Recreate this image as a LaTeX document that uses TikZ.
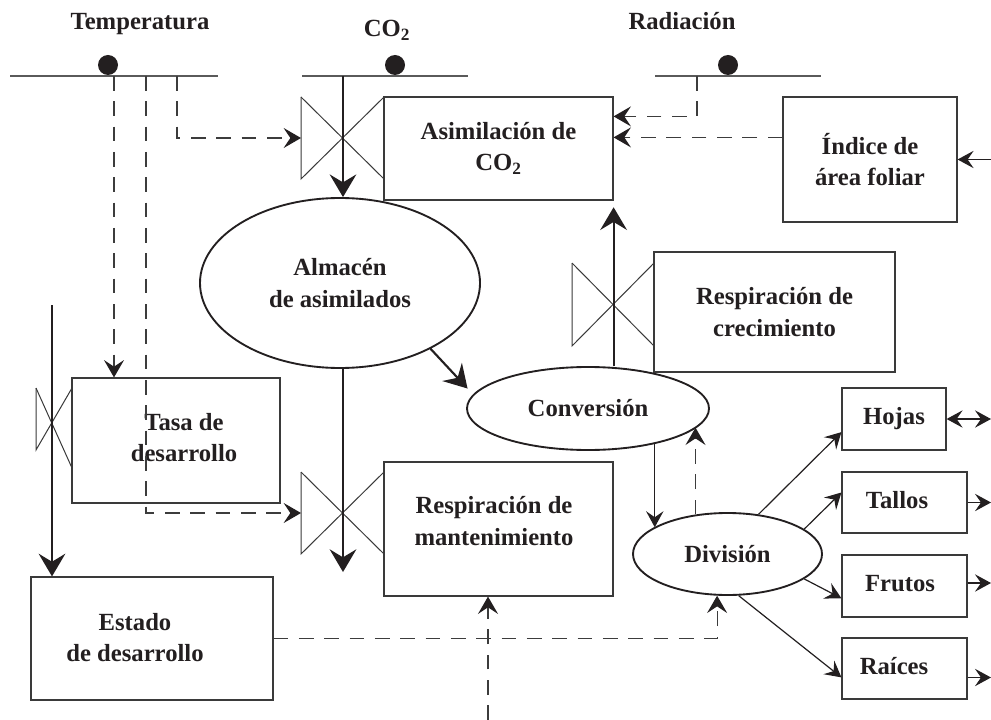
\documentclass[tikz,border=0pt]{standalone}
\usepackage{fontspec}
\setmainfont{Liberation Serif}
\usetikzlibrary{shapes.geometric,arrows.meta,calc}
\definecolor{ink}{HTML}{231F20}
\definecolor{boxc}{HTML}{3A3A3A}
\definecolor{dashc}{HTML}{3C3C3C}
\definecolor{linec}{HTML}{5A5A5A}
\newcommand{\lbl}{\fontsize{18.5}{23.5}\selectfont\bfseries}
\tikzset{
  box/.style={draw=boxc, line width=0.9pt, inner sep=0pt, align=center, font=\lbl, text=ink},
  ell/.style={ellipse, draw=ink, line width=1.4pt, inner sep=0pt, align=center, font=\lbl, text=ink},
  ttl/.style={font=\lbl, text=ink, anchor=base, inner sep=0pt},
  txt/.style={font=\lbl, text=ink, align=center, inner sep=0pt},
  valve/.style={draw=boxc, line width=0.75pt},
  srcline/.style={draw=linec, line width=1.1pt},
  thickarr/.style={draw=ink, line width=1.6pt, -{Stealth[length=17pt,width=20pt,inset=6pt]}},
  thinarr/.style={draw=ink, line width=0.9pt, -{Stealth[length=12pt,width=13pt,inset=4.5pt]}},
  dblarr/.style={draw=ink, line width=0.9pt, {Stealth[length=12pt,width=13pt,inset=4.5pt]}-{Stealth[length=12pt,width=13pt,inset=4.5pt]}},
  dasharr/.style={draw=dashc, line width=0.9pt, dash pattern=on 11pt off 8pt, -{Stealth[length=13pt,width=15pt,inset=5pt,color=ink]}}
}
\begin{document}
\begin{tikzpicture}[x=0.75pt,y=-0.75pt]
\fill[white] (0,0) rectangle (991,720);
\useasboundingbox (0,0) rectangle (991,720);

% titles
\node[ttl] (tTemp) at (140,30) {Temperatura};
\node[ttl] (tCO2) at (387,37) {CO\textsubscript{2}};
\node[ttl] (tRad) at (682,30) {Radiación};

% source lines and dots
\draw[srcline] (10,76) -- (218,76);
\fill[ink] (108,65) circle (10);
\draw[srcline] (302,76) -- (468,76);
\fill[ink] (395,65) circle (10);
\draw[srcline] (655,76) -- (821,76);
\fill[ink] (728,65) circle (10);

\coordinate (t1) at (114,76);
\coordinate (t2) at (146,76);
\coordinate (t3) at (177,76);
\coordinate (co2s) at (343,76);
\coordinate (rads) at (697,76);

% boxes
\node[box, minimum width=229*0.75pt, minimum height=103*0.75pt] (asim) at (498.5,148.5) {Asimilación de\\CO\textsubscript{2}};
\node[box, minimum width=174*0.75pt, minimum height=125*0.75pt] (indice) at (870,159.5) {Índice de\\área foliar};
\node[box, minimum width=241*0.75pt, minimum height=120*0.75pt] (crec) at (774.5,312) {Respiración de\\crecimiento};
\node[box, minimum width=208*0.75pt, minimum height=125*0.75pt] (tasa) at (176,440.5) {};
\node[txt] (tasaT) at (184,437.5) {Tasa de\\desarrollo};
\node[box, minimum width=229*0.75pt, minimum height=134*0.75pt] (mant) at (498.5,529) {};
\node[txt] (mantT) at (494,521) {Respiración de\\mantenimiento};
\node[box, minimum width=242*0.75pt, minimum height=123*0.75pt] (estado) at (152,638.5) {};
\node[txt] (estadoT) at (135,637.5) {Estado\\de desarrollo};
\node[box, minimum width=104*0.75pt, minimum height=62*0.75pt] (hojas) at (894,419) {Hojas};
\node[box, minimum width=125*0.75pt, minimum height=61*0.75pt] (tallos) at (904.5,502.5) {};
\node[txt] (tallosT) at (897,500) {Tallos};
\node[box, minimum width=125*0.75pt, minimum height=62*0.75pt] (frutos) at (904.5,586) {};
\node[txt] (frutosT) at (900,584) {Frutos};
\node[box, minimum width=125*0.75pt, minimum height=61*0.75pt] (raices) at (904.5,668.5) {};
\node[txt] (raicesT) at (894,666) {Raíces};

% ellipses
\node[ell, minimum width=280*0.75pt, minimum height=170*0.75pt] (alm) at (340,283) {Almacén\\de asimilados};
\node[ell, minimum width=242*0.75pt, minimum height=83*0.75pt] (conv) at (588,408.5) {Conversión};
\node[ell, minimum width=189*0.75pt, minimum height=82*0.75pt] (div) at (727.5,554) {División};

% valves
\draw[valve] (301,97) -- (301,179) -- (384,97);
\draw[valve] (301,97) -- (384,179);
\draw[valve] (301,472) -- (301,554) -- (384,472);
\draw[valve] (301,472) -- (384,554);
\draw[valve] (572,263) -- (572,346) -- (654,263);
\draw[valve] (572,263) -- (654,346);
\draw[valve] (36,388) -- (36,450) -- (72,388);
\draw[valve] (36,388) -- (72,468);

\coordinate (vasim) at (301,138);
\coordinate (vmant) at (301,513);
\coordinate (almd) at (343,572);
\coordinate (ls) at (52,305);
\coordinate (bs) at (488,720);
\coordinate (redge) at (991,0);

% solid flows
\draw[thickarr] (co2s) -- (co2s |- alm.north);
\draw[thickarr] (alm.south -| almd) -- (almd);
\draw[thickarr, shorten >=6pt] (alm.-36) -- (conv.173);
\draw[thickarr, shorten >=5pt] (asim.south east |- conv.north) -- (asim.south east);
\draw[thickarr] (ls) -- (ls |- estado.north);
\draw[thinarr] (conv.-28) -- (conv.-28 |- div.160);
\draw[thinarr] (div.52) -- (hojas.194);
\draw[thinarr] (div.18.5) -- (tallos.171);
\draw[thinarr] (div.-18.5) -- (frutos.191);
\draw[thinarr] (div.-75) -- (raices.188);

% right edge arrows
\draw[dblarr] (hojas.east) -- (hojas.east -| redge);
\draw[thinarr] (tallos.east) -- (tallos.east -| redge);
\draw[thinarr] ($(frutos.east)+(0,-3)$) coordinate (fe) -- (fe -| redge);
\draw[thinarr] ($(raices.east)+(0,9)$) coordinate (re) -- (re -| redge);
\draw[thinarr] (indice.east -| redge) -- (indice.east);

% information flows (dashed)
\draw[dasharr] (t1) -- (t1 |- tasa.north);
\draw[dasharr] (t2) |- (vmant);
\draw[dasharr] (t3) |- (vasim);
\draw[dasharr] (rads) |- ($(asim.north east)+(0,20)$);
\draw[dasharr] ($(indice.north west)+(0,41)$) -- ($(asim.north east)+(0,41)$);
\draw[dasharr] (div.129) -- (div.129 |- conv.-10);
\draw[dasharr] (estado.east) -| (div.-104);
\draw[dasharr] (bs) -- (bs |- mant.south);
\end{tikzpicture}
\end{document}
